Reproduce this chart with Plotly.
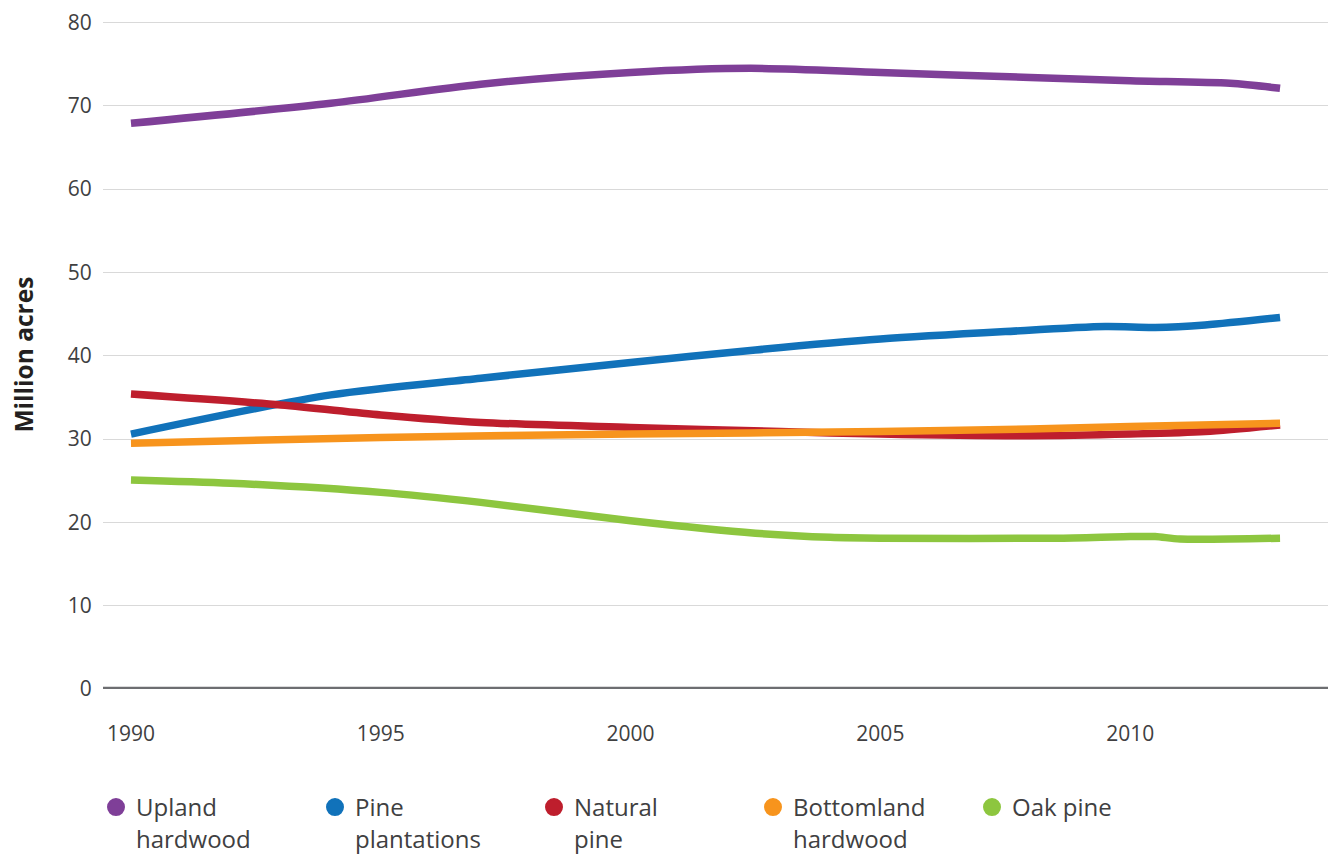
import plotly.graph_objects as go

# Data (million acres)
upland_years = [1990, 1994, 1997, 2000, 2002.4, 2005, 2008, 2010, 2012, 2013]
upland_vals = [67.9, 70.3, 72.6, 74.0, 74.5, 74.0, 73.4, 73.0, 72.7, 72.1]

pine_pl_years = [1990, 1994, 1997, 2000, 2002.5, 2005, 2007.5, 2009.5, 2010.5, 2011.5, 2013]
pine_pl_vals = [30.6, 35.3, 37.3, 39.2, 40.7, 42.0, 42.9, 43.5, 43.4, 43.7, 44.6]

nat_pine_years = [1990, 1993, 1995, 1997, 2000, 2003, 2005, 2008, 2010, 2011.5, 2013]
nat_pine_vals = [35.4, 34.1, 32.9, 32.0, 31.4, 30.9, 30.6, 30.4, 30.6, 30.9, 31.7]

bottom_years = [1990, 1995, 2000, 2005, 2008, 2010, 2013]
bottom_vals = [29.5, 30.2, 30.6, 30.9, 31.2, 31.5, 31.9]

oak_years = [1990, 1992, 1995, 1997, 2000, 2002.5, 2004, 2005, 2008.5, 2010, 2010.5, 2011, 2013]
oak_vals = [25.1, 24.7, 23.6, 22.4, 20.2, 18.7, 18.2, 18.1, 18.1, 18.3, 18.3, 18.0, 18.1]

series_names = ["Upland<br>hardwood", "Pine<br>plantations", "Natural<br>pine",
                "Bottomland<br>hardwood", "Oak pine"]
series_colors = ["#7f3f98", "#1172ba", "#be1e2d", "#f7941d", "#8dc63f"]
series_x = [upland_years, pine_pl_years, nat_pine_years, bottom_years, oak_years]
series_y = [upland_vals, pine_pl_vals, nat_pine_vals, bottom_vals, oak_vals]

x_ticks = [1990, 1995, 2000, 2005, 2010]
y_ticks = [0, 10, 20, 30, 40, 50, 60, 70, 80]

FONT = "Open Sans"
TXT = "#404041"

fig = go.Figure()
for name, col, xs, ys in zip(series_names, series_colors, series_x, series_y):
    fig.add_trace(go.Scatter(
        x=xs, y=ys, mode="lines", name=name, showlegend=False,
        line=dict(color=col, width=7.5, shape="spline", smoothing=0.8),
        hoverinfo="skip",
    ))
for name, col in zip(series_names, series_colors):
    fig.add_trace(go.Scatter(
        x=[None], y=[None], mode="markers", name=name,
        marker=dict(color=col, size=19, symbol="circle", line=dict(color=col, width=2)),
    ))

fig.update_layout(
    width=1336, height=854,
    margin=dict(l=95, r=8, t=11.5, b=173, autoexpand=False),
    paper_bgcolor="white", plot_bgcolor="white",
    font=dict(family=FONT, color=TXT, size=21),
    showlegend=True,
    legend=dict(
        orientation="h", xref="container", yref="container",
        x=88 / 1336, y=1 - 777 / 854, xanchor="left", yanchor="top",
        font=dict(family=FONT, size=24, color=TXT),
        entrywidth=174, entrywidthmode="pixels",
        valign="top", itemsizing="trace", tracegroupgap=0,
    ),
    xaxis=dict(
        range=[1989.44, 2014.12], tickvals=x_ticks, ticktext=[str(v) for v in x_ticks],
        showgrid=False, zeroline=False, showline=False,
        ticks="outside", ticklen=26, tickcolor="rgba(0,0,0,0)",
        tickfont=dict(family=FONT, size=21, color=TXT),
        ticklabeloverflow="allow",
    ),
    yaxis=dict(
        range=[0, 80.3], tickvals=y_ticks, ticktext=[str(v) for v in y_ticks],
        showgrid=True, gridcolor="#d9d9d9", gridwidth=1.2,
        zeroline=False, showline=False,
        ticks="outside", ticklen=6, tickcolor="rgba(0,0,0,0)",
        tickfont=dict(family=FONT, size=21, color=TXT),
        ticklabeloverflow="allow",
    ),
)

# zero baseline
fig.add_shape(type="line", xref="paper", yref="y", x0=0, x1=1, y0=0, y1=0,
              line=dict(color="#6d6e71", width=4.5), layer="above")

fig.add_annotation(
    text="<b>Million acres</b>", textangle=-90,
    xref="paper", yref="paper", x=(15 - 95) / 1233, y=0.5,
    xanchor="center", yanchor="middle", showarrow=False,
    font=dict(family=FONT, size=24.5, color="#231f20"),
)

fig.write_html("out.html")
